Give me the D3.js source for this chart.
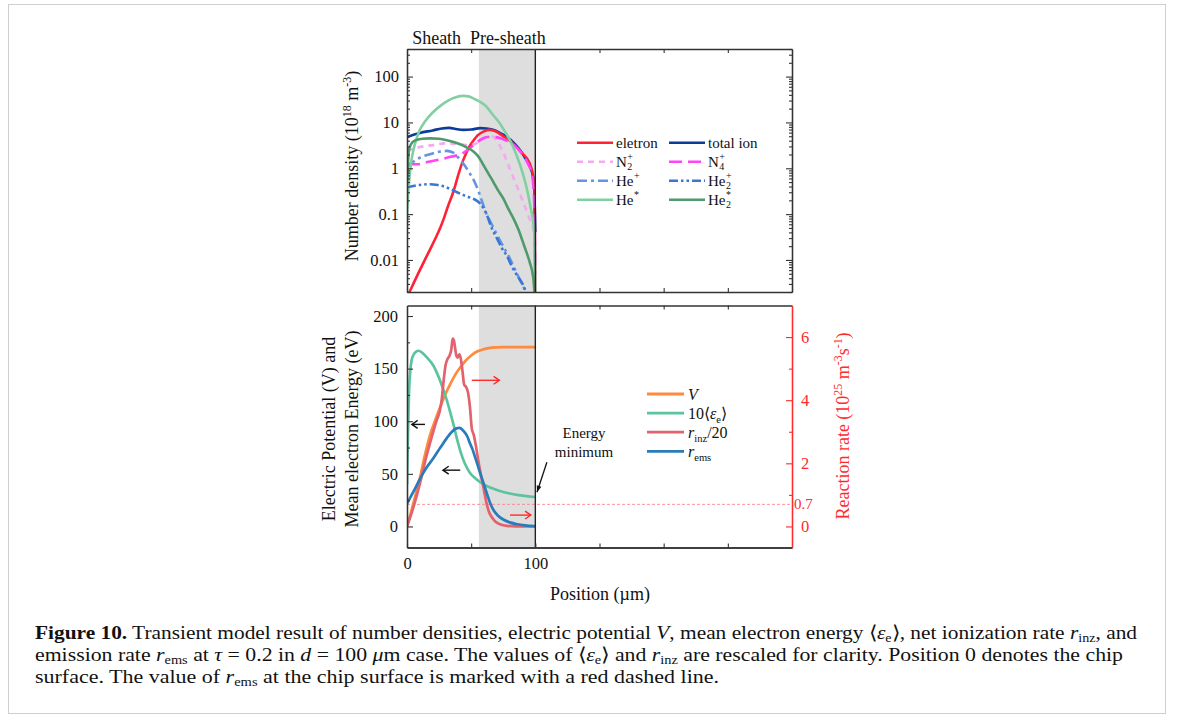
<!DOCTYPE html>
<html><head><meta charset="utf-8">
<script src="https://cdn.jsdelivr.net/npm/d3@7"></script>
<style>body{margin:0;background:#fff}svg{display:block}text{font-family:"Liberation Serif","Times New Roman",serif;fill:#111}</style>
</head><body>
<svg id="c" width="1181" height="720"></svg>
<script>
// ---------------- DATA (position in µm, value) ----------------
const eletron = [[0,0.0016],[2.3,0.0021],[6,0.0035],[10,0.006],[14,0.0102],[18,0.017],[22,0.029],[26,0.051],[29,0.085],[32,0.15],[36,0.3],[39.5,0.65],[42.5,1.2],[46,2.1],[49,3.1],[52,4.1],[55,5.2],[60,6.4],[64,6.9],[68,6.6],[75,5.0],[82,3.6],[90,2.1],[95.5,1.3],[98.5,0.6],[99.5,0.2],[100,0.001]];
const totalIon = [[0,4.8],[5,5.4],[10,5.9],[20,6.7],[27,7.4],[33,7.6],[38,7.2],[44,6.9],[50,7.0],[57,7.5],[62,7.4],[67,6.9],[72,6.0],[78,4.8],[84,3.4],[88,2.5],[92,1.7],[95,1.2],[97.5,0.8],[99,0.45],[100,0.04]];
const n2plus = [[0,2.4],[10,2.9],[20,3.2],[30,3.5],[40,3.4],[48,3.2],[53,3.4],[58,4.2],[63,5.0],[67,4.9],[71,3.6],[75,2.2],[80,1.0],[85,0.45],[90,0.2],[95,0.085],[98.5,0.045],[100,0.015]];
const n4plus = [[0,1.25],[8,1.22],[15,1.35],[25,1.55],[35,1.8],[43,2.1],[48,2.6],[53,3.4],[58,4.3],[63,4.8],[68,4.8],[74,4.4],[80,3.7],[85,2.9],[90,2.0],[94,1.3],[97,0.8],[98.5,0.4],[99.5,0.06],[100,0.005]];
const hePlus = [[0,1.05],[5,1.4],[10,1.7],[17,2.0],[25,2.3],[31,2.4],[36,2.2],[40,1.7],[44,1.25],[48,0.85],[52,0.55],[56,0.3],[59,0.17],[62,0.1],[66,0.06],[72,0.028],[80,0.011],[86,0.0048],[92,0.0022],[95,0.0015]];
const he2Plus = [[0,0.38],[5,0.41],[12,0.44],[18,0.45],[24,0.43],[29,0.4],[34,0.35],[39,0.3],[44,0.26],[49,0.23],[54,0.2],[57,0.17],[60,0.13],[62,0.1],[66,0.05],[70,0.03],[74,0.018],[78,0.012],[82,0.007],[86,0.0045],[90,0.003],[93,0.0019]];
const heStar = [[0,0.1],[1,0.3],[2,0.65],[3,1.2],[5,2.5],[7.5,4.5],[10,6.9],[14,10.5],[20,16.5],[26,23],[32,30],[38,35.5],[44,38],[48,37],[53,32],[58,27],[62,22],[67,14.5],[72,9.8],[76,6.5],[80,4.2],[84,2.4],[88,1.2],[91,0.65],[94,0.3],[96.5,0.13],[98.5,0.06],[99.7,0.02],[100,0.001]];
const he2Star = [[0,0.5],[0.7,1.2],[1.5,2.4],[3,3.3],[6,4.0],[12,4.4],[18,4.5],[25,4.4],[31,4.1],[37,3.7],[43,3.2],[48,2.7],[52,2.3],[56,1.75],[59,1.25],[63,0.8],[67,0.52],[71,0.33],[75,0.22],[79,0.13],[83,0.08],[87,0.045],[90,0.026],[93,0.015],[95.6,0.009],[98.4,0.004],[100,0.001]];

const potentialV = [[0,0],[3,13],[6,27],[10,46],[14,68],[18,87],[22,101],[26,114],[30,126],[34,136],[38,145],[42,152],[46,158],[50,162.5],[55,166.5],[60,168.5],[66,170],[75,170.5],[100,170.5]];
const energy10 = [[0,40],[0.5,72],[1,100],[1.6,128],[2.5,147],[3.6,158],[5,163],[7,166],[9,167],[12,165],[16,160],[20.5,153],[25,141],[28,131],[31,120],[34,107],[36,98],[39,83],[42,70],[45,60],[49,51],[53,46],[57,42],[62,38.5],[67,36],[73,33.5],[80,31.3],[87,29.8],[93,28.8],[100,28]];
const rinz20 = [[0,0],[3,0.35],[6,0.75],[10,1.35],[15,2.2],[19,2.8],[23,3.35],[25.5,3.65],[27,4.0],[28.5,4.6],[30,5.1],[31.5,5.3],[33,5.4],[34.5,5.6],[35.6,5.95],[36.5,5.9],[37.5,5.65],[38.5,5.4],[39.5,5.35],[40.8,5.45],[42,5.3],[43.3,4.9],[44.5,4.5],[46,4.42],[47.5,4.25],[49,3.8],[50.5,3.1],[52,2.9],[53.5,2.6],[55.5,2.1],[57.5,1.65],[59.5,1.25],[62,0.73],[64,0.45],[66,0.3],[69,0.15],[72.5,0.07],[78,0.02],[85,0.005],[100,0]];
const rems = [[0,0.72],[5,1.1],[10,1.5],[15,1.85],[20.5,2.16],[26,2.5],[31,2.8],[35,3.0],[38,3.1],[41,3.12],[43.5,3.05],[45.5,2.95],[47,2.85],[49,2.64],[51,2.45],[53,2.2],[55,1.95],[57,1.69],[59,1.45],[61,1.2],[63,0.95],[65,0.72],[68,0.48],[71,0.34],[75,0.22],[80,0.13],[86,0.07],[92,0.035],[100,0.01]];

const densTicks = [0.01, 0.1, 1, 10, 100];
const densTickLabels = ["0.01", "0.1", "1", "10", "100"];
const potTicks = [0, 50, 100, 150, 200];
const rateTicks = [0, 2, 4, 6];
const posTickLabels = [0, 100];
const sheathRegion = [56, 100];
const remsSurface = 0.7;

// ---------------- LAYOUT ----------------
const svg = d3.select("#c");
const X0 = 407, X1 = 792, T0 = 49, T1 = 292, B0 = 305.5, B1 = 547.5;
const x = d3.scaleLinear().domain([0, 300]).range([X0, X1]);
const yD = d3.scaleLog().domain([0.002, 400]).range([T1, T0]);
const yL = d3.scaleLinear().domain([-20, 210]).range([B1, B0]);
const yR = d3.scaleLinear().domain([-20 / 30, 7]).range([B1, B0]);
const AX = "#333", RED = "#ff2a2a";

svg.append("rect").attr("x", 8.5).attr("y", 4.5).attr("width", 1157).attr("height", 709)
  .attr("fill", "none").attr("stroke", "#cfcfcf").attr("stroke-width", 1);

const defs = svg.append("defs");
defs.append("clipPath").attr("id", "clipT").append("rect").attr("x", X0).attr("y", T0).attr("width", X1 - X0).attr("height", T1 - T0);
defs.append("clipPath").attr("id", "clipB").append("rect").attr("x", X0).attr("y", B0).attr("width", X1 - X0).attr("height", B1 - B0);

// shaded pre-sheath
[[T0, T1], [B0, B1]].forEach(([a, b]) => {
  svg.append("rect").attr("x", x(sheathRegion[0])).attr("y", a).attr("width", x(sheathRegion[1]) - x(sheathRegion[0]))
    .attr("height", b - a).attr("fill", "#dedede");
});

// ---------------- TOP PANEL LINES ----------------
const lineT = d3.line().x(d => x(d[0])).y(d => yD(d[1])).curve(d3.curveMonotoneX);
const topSeries = [
  {data: totalIon, color: "#0b3c9c", dash: null},
  {data: eletron, color: "#ff2236", dash: null},
  {data: n2plus, color: "#f6a8f0", dash: "6,5"},
  {data: n4plus, color: "#ff45f5", dash: "13,6"},
  {data: hePlus, color: "#6495e0", dash: "10,4,3,4"},
  {data: he2Plus, color: "#3a76d6", dash: "9,3,2.5,3,2.5,3"},
  {data: heStar, color: "#82cfa2", dash: null},
  {data: he2Star, color: "#4e9a6c", dash: null}
];
const gT = svg.append("g").attr("clip-path", "url(#clipT)");
topSeries.forEach(s => {
  gT.append("path").attr("d", lineT(s.data)).attr("fill", "none").attr("stroke", s.color)
    .attr("stroke-width", 2.6).attr("stroke-dasharray", s.dash);
});

// ---------------- BOTTOM PANEL LINES ----------------
const lineL = d3.line().x(d => x(d[0])).y(d => yL(d[1])).curve(d3.curveMonotoneX);
const lineR = d3.line().x(d => x(d[0])).y(d => yR(d[1])).curve(d3.curveMonotoneX);
const gB = svg.append("g").attr("clip-path", "url(#clipB)");
gB.append("line").attr("x1", X0).attr("x2", X1).attr("y1", yR(remsSurface)).attr("y2", yR(remsSurface))
  .attr("stroke", "#ff7a7a").attr("stroke-width", 0.8).attr("stroke-dasharray", "3,2");
const botSeries = [
  {data: potentialV, line: lineL, color: "#ff8a3d"},
  {data: energy10, line: lineL, color: "#5cc49c"},
  {data: rinz20, line: lineR, color: "#e2626e"},
  {data: rems, line: lineR, color: "#2a7bb9"}
];
botSeries.forEach(s => {
  gB.append("path").attr("d", s.line(s.data)).attr("fill", "none").attr("stroke", s.color).attr("stroke-width", 2.7);
});

// vertical line at 100 um
[[T0, T1], [B0, B1]].forEach(([a, b]) => {
  svg.append("line").attr("x1", x(100)).attr("x2", x(100)).attr("y1", a).attr("y2", b).attr("stroke", "#222").attr("stroke-width", 1.4);
});

// ---------------- AXES ----------------
function styleAxis(g, color, fs) {
  g.selectAll(".domain").attr("stroke", color).attr("stroke-width", 1.3);
  g.selectAll(".tick line").attr("stroke", color).attr("stroke-width", 1.1);
  g.selectAll("text").attr("font-family", "Liberation Serif").attr("font-size", fs || 16.5).style("fill", color === AX ? "#111" : color);
  return g;
}
const minorLog = [];
for (let k = -3; k <= 2; k++) for (let m = 2; m <= 9; m++) { const v = m * Math.pow(10, k); if (v >= 0.002 && v <= 400) minorLog.push(v); }
const posMinor = [50, 150, 200, 250];

// top panel
styleAxis(svg.append("g").attr("transform", `translate(${X0},0)`).call(d3.axisLeft(yD).tickValues(densTicks).tickSize(-6).tickSizeOuter(0).tickPadding(8).tickFormat((d, i) => densTickLabels[i])), AX);
styleAxis(svg.append("g").attr("transform", `translate(${X0},0)`).call(d3.axisLeft(yD).tickValues(minorLog).tickSize(-3).tickSizeOuter(0).tickFormat("")), AX);
styleAxis(svg.append("g").attr("transform", `translate(${X1},0)`).call(d3.axisRight(yD).tickValues(densTicks).tickSize(-6).tickSizeOuter(0).tickFormat("")), AX);
styleAxis(svg.append("g").attr("transform", `translate(${X1},0)`).call(d3.axisRight(yD).tickValues(minorLog).tickSize(-3).tickSizeOuter(0).tickFormat("")), AX);
styleAxis(svg.append("g").attr("transform", `translate(0,${T1})`).call(d3.axisBottom(x).tickValues(posMinor).tickSize(-4).tickSizeOuter(0).tickFormat("")), AX);
styleAxis(svg.append("g").attr("transform", `translate(0,${T0})`).call(d3.axisTop(x).tickValues(posMinor).tickSize(-4).tickSizeOuter(0).tickFormat("")), AX);

// bottom panel
styleAxis(svg.append("g").attr("transform", `translate(${X0},0)`).call(d3.axisLeft(yL).tickValues(potTicks).tickSize(-6).tickSizeOuter(0).tickPadding(9)), AX);
styleAxis(svg.append("g").attr("transform", `translate(${X0},0)`).call(d3.axisLeft(yL).tickValues([25, 75, 125, 175]).tickSize(-3).tickSizeOuter(0).tickFormat("")), AX);
styleAxis(svg.append("g").attr("transform", `translate(0,${B1})`).call(d3.axisBottom(x).tickValues(posTickLabels).tickSize(-4).tickSizeOuter(0).tickPadding(10)), AX);
styleAxis(svg.append("g").attr("transform", `translate(0,${B1})`).call(d3.axisBottom(x).tickValues(posMinor).tickSize(-4).tickSizeOuter(0).tickFormat("")), AX);
styleAxis(svg.append("g").attr("transform", `translate(0,${B0})`).call(d3.axisTop(x).tickValues(posMinor).tickSize(-4).tickSizeOuter(0).tickFormat("")), AX);
styleAxis(svg.append("g").attr("transform", `translate(${X1},0)`).call(d3.axisRight(yR).tickValues(rateTicks).tickSize(-6).tickSizeOuter(0).tickPadding(9)), RED);
styleAxis(svg.append("g").attr("transform", `translate(${X1},0)`).call(d3.axisRight(yR).tickValues([1, 3, 5]).tickSize(-3).tickSizeOuter(0).tickFormat("")), RED);
svg.append("text").attr("x", X1 + 2).attr("y", yR(remsSurface) + 5).attr("font-size", 15).style("fill", RED).text("0.7");

// ---------------- RICH TEXT HELPER ----------------
function rich(parent, xx, yy, parts, fs, attrs, subShift) {
  const t = parent.append("text").attr("x", xx).attr("y", yy).attr("font-size", fs);
  if (attrs) Object.entries(attrs).forEach(([k, v]) => t.attr(k, v));
  const ss = subShift == null ? 0.28 : subShift;
  let shift = 0;
  parts.forEach(p => {
    const ts = t.append("tspan").text(p.t);
    const target = p.sub ? fs * ss : p.sup ? -fs * 0.4 : 0;
    if (target !== shift) ts.attr("dy", target - shift);
    shift = target;
    if (p.sub || p.sup) ts.attr("font-size", fs * 0.66);
    if (p.i) ts.attr("font-style", "italic");
    if (p.b) ts.attr("font-weight", "bold");
  });
  return t;
}

// ---------------- TOP LEGEND ----------------
const topLegend = [
  {s: 1, col: 0, row: 0, base: "eletron"},
  {s: 2, col: 0, row: 1, base: "N", sub: "2", sup: "+"},
  {s: 4, col: 0, row: 2, base: "He", sup: "+"},
  {s: 6, col: 0, row: 3, base: "He", sup: "*"},
  {s: 0, col: 1, row: 0, base: "total ion"},
  {s: 3, col: 1, row: 1, base: "N", sub: "4", sup: "+"},
  {s: 5, col: 1, row: 2, base: "He", sub: "2", sup: "+"},
  {s: 7, col: 1, row: 3, base: "He", sub: "2", sup: "*"}
];
topLegend.forEach(e => {
  const lx = e.col ? 669 : 577, ly = 142.7 + e.row * 19;
  const s = topSeries[e.s];
  svg.append("line").attr("x1", lx).attr("x2", lx + 36).attr("y1", ly).attr("y2", ly).attr("stroke", s.color)
    .attr("stroke-width", 2.6).attr("stroke-dasharray", s.dash);
  const t = svg.append("text").attr("x", lx + 39).attr("y", ly + 5).attr("font-size", 15).text(e.base);
  const w = t.node().getComputedTextLength();
  if (e.sup) svg.append("text").attr("x", lx + 39 + w + 0.5).attr("y", ly - 2).attr("font-size", 10).text(e.sup);
  if (e.sub) svg.append("text").attr("x", lx + 39 + w + 0.5).attr("y", ly + 8.5).attr("font-size", 10).text(e.sub);
});

// ---------------- BOTTOM LEGEND ----------------
const botLegend = [
  [{t: "V", i: 1}],
  [{t: "10⟨"}, {t: "ε", i: 1}, {t: "e", sub: 1}, {t: "⟩"}],
  [{t: "r", i: 1}, {t: "inz", sub: 1}, {t: "/20"}],
  [{t: "r", i: 1}, {t: "ems", sub: 1}]
];
botLegend.forEach((parts, i) => {
  const ly = 394 + i * 19.1;
  svg.append("line").attr("x1", 647).attr("x2", 684).attr("y1", ly).attr("y2", ly).attr("stroke", botSeries[i].color).attr("stroke-width", 2.8);
  rich(svg, 688, ly + 5.5, parts, 16);
});

// ---------------- ANNOTATIONS ----------------
function arrow(x1, y1, x2, y2, color) {
  svg.append("line").attr("x1", x1).attr("y1", y1).attr("x2", x2).attr("y2", y2).attr("stroke", color).attr("stroke-width", 1.4);
  const a = Math.atan2(y2 - y1, x2 - x1), L = 7, H = 0.6;
  const p = [[x2 - L * Math.cos(a - H), y2 - L * Math.sin(a - H)], [x2, y2], [x2 - L * Math.cos(a + H), y2 - L * Math.sin(a + H)]];
  svg.append("path").attr("d", d3.line()(p)).attr("fill", "none").attr("stroke", color).attr("stroke-width", 1.4);
}
arrow(x(14), yL(97), x(3.8), yL(97), "#111");
arrow(x(41.5), yL(53.5), x(28), yL(53.5), "#111");
arrow(x(50.5), yR(4.63), x(72), yR(4.63), RED);
arrow(x(80.3), yR(0.36), x(96.5), yR(0.36), RED);
// energy minimum pointer
(function () {
  const x1 = x(109), y1 = yL(61), x2 = x(101.3), y2 = yL(32.5);
  svg.append("line").attr("x1", x1).attr("y1", y1).attr("x2", x2).attr("y2", y2).attr("stroke", "#111").attr("stroke-width", 1.3);
  const a = Math.atan2(y2 - y1, x2 - x1), L = 7, H = 0.35;
  svg.append("path").attr("d", d3.line()([[x2 - L * Math.cos(a - H), y2 - L * Math.sin(a - H)], [x2, y2], [x2 - L * Math.cos(a + H), y2 - L * Math.sin(a + H)]]) + "Z").attr("fill", "#111");
})();
svg.append("text").attr("x", 584).attr("y", 438).attr("text-anchor", "middle").attr("font-size", 15).text("Energy");
svg.append("text").attr("x", 584).attr("y", 457).attr("text-anchor", "middle").attr("font-size", 15).text("minimum");

svg.append("text").attr("x", x(4)).attr("y", 44).attr("font-size", 18).text("Sheath");
svg.append("text").attr("x", x(49)).attr("y", 44).attr("font-size", 18).text("Pre-sheath");

// ---------------- AXIS TITLES ----------------
rich(svg, 0, 0, [{t: "Number density (10"}, {t: "18", sup: 1}, {t: " m"}, {t: "-3", sup: 1}, {t: ")"}], 18,
  {"text-anchor": "middle", transform: "translate(358,166) rotate(-90)"});
svg.append("text").attr("text-anchor", "middle").attr("font-size", 18).attr("transform", "translate(335,429) rotate(-90)").text("Electric Potential (V) and");
svg.append("text").attr("text-anchor", "middle").attr("font-size", 18).attr("transform", "translate(358,429) rotate(-90)").text("Mean electron Energy (eV)");
rich(svg, 0, 0, [{t: "Reaction rate (10"}, {t: "25", sup: 1}, {t: " m"}, {t: "-3", sup: 1}, {t: "s"}, {t: "-1", sup: 1}, {t: ")"}], 18,
  {"text-anchor": "middle", transform: "translate(849,426) rotate(-90)"}).style("fill", RED);
svg.append("text").attr("x", 600).attr("y", 600).attr("text-anchor", "middle").attr("font-size", 18).text("Position (µm)");

// ---------------- CAPTION ----------------
const capLines = [
  [{t: "Figure 10.", b: 1}, {t: " Transient model result of number densities, electric potential "}, {t: "V", i: 1}, {t: ", mean electron energy ⟨"}, {t: "ε", i: 1}, {t: "e", sub: 1}, {t: "⟩, net ionization rate "}, {t: "r", i: 1}, {t: "inz", sub: 1}, {t: ", and"}],
  [{t: "emission rate "}, {t: "r", i: 1}, {t: "ems", sub: 1}, {t: " at "}, {t: "τ", i: 1}, {t: " = 0.2 in "}, {t: "d", i: 1}, {t: " = 100 "}, {t: "μ", i: 1}, {t: "m case. The values of ⟨"}, {t: "ε", i: 1}, {t: "e", sub: 1}, {t: "⟩ and "}, {t: "r", i: 1}, {t: "inz", sub: 1}, {t: " are rescaled for clarity. Position 0 denotes the chip"}],
  [{t: "surface. The value of "}, {t: "r", i: 1}, {t: "ems", sub: 1}, {t: " at the chip surface is marked with a red dashed line."}]
];
const capWidths = [1102, 1088, 684];
capLines.forEach((parts, i) => {
  rich(svg, 35, 639 + i * 22, parts, 18.5, null, 0.15)
    .attr("textLength", capWidths[i]).attr("lengthAdjust", "spacingAndGlyphs");
});
</script>
</body></html>
